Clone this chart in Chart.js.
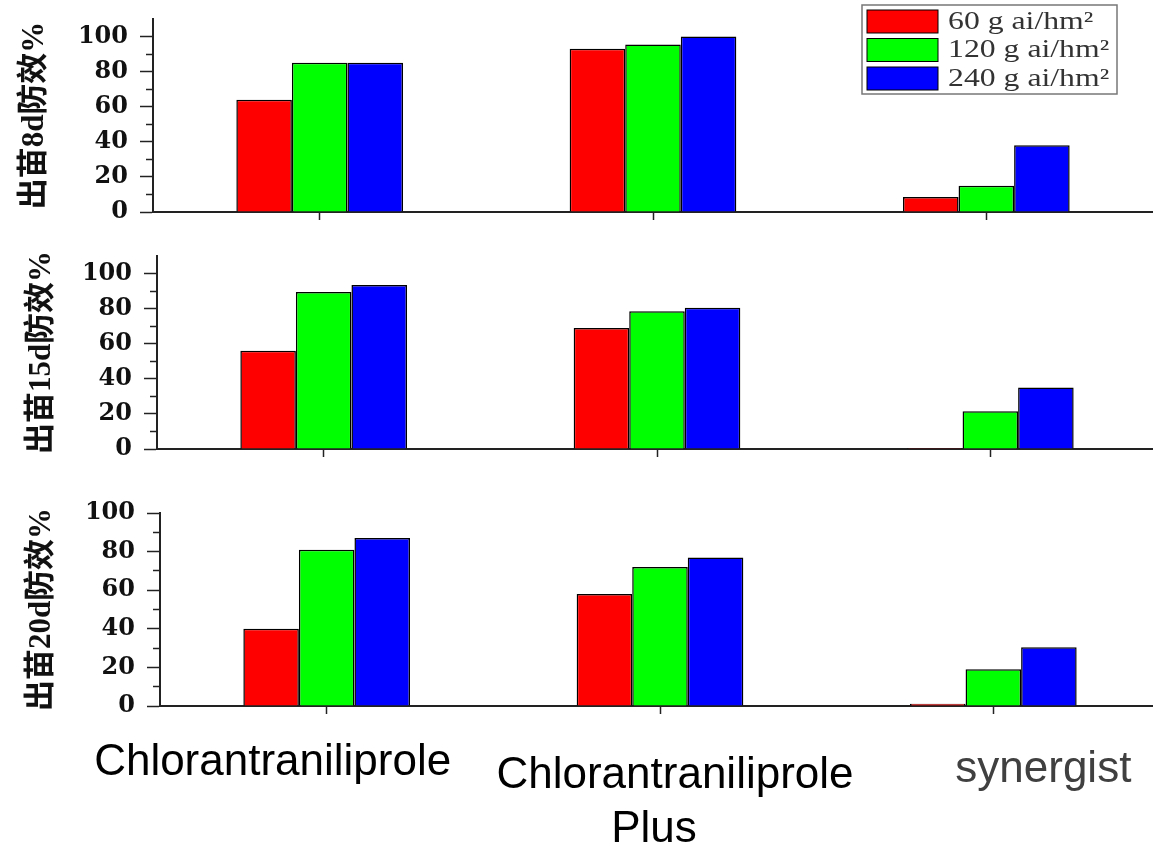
<!DOCTYPE html>
<html>
<head>
<meta charset="utf-8">
<script src="https://cdn.jsdelivr.net/npm/chart.js@4.4.1/dist/chart.umd.min.js"></script>
<style>
  html, body { margin: 0; padding: 0; background: #fff; overflow: hidden; width: 1153px; height: 846px; }
  .panel { position: absolute; left: 0; }
</style>
</head>
<body>
<div class="panel" style="top:0px"><canvas id="c8" width="1170" height="232"></canvas></div>
<div class="panel" style="top:237px"><canvas id="c15" width="1170" height="232"></canvas></div>
<div class="panel" style="top:494px"><canvas id="c20" width="1170" height="352"></canvas></div>
<script>
// categories and dose groups
const categories = ['Chlorantraniliprole', 'Chlorantraniliprole Plus', 'synergist'];
const categoryLines = [['Chlorantraniliprole'], ['Chlorantraniliprole', 'Plus'], ['synergist']];
const doseLabels = ['60 g ai/hm²', '120 g ai/hm²', '240 g ai/hm²'];
const doseColors = ['#ff0000', '#00ff00', '#0000ff'];

// 出苗8d防效%
const day8_60 = [64, 93, 8.5];
const day8_120 = [85, 95.5, 15];
const day8_240 = [85, 100, 38];
// 出苗15d防效%
const day15_60 = [56, 69, 0.6];
const day15_120 = [89.5, 78.5, 21.5];
const day15_240 = [93.5, 80.5, 35];
// 出苗20d防效%
const day20_60 = [40, 58, 1.2];
const day20_120 = [81, 72, 19];
const day20_240 = [87, 77, 30.5];

const yStep = 10;
const yLabelStep = 20;

const axisColor = '#222';

// legend box drawn in the top-right corner of the first panel
const boxLegend = {
  id: 'boxLegend',
  afterDraw(chart) {
    const ctx = chart.ctx;
    const area = chart.chartArea;
    const w = 255, h = 89;
    const left = area.right - 36 - w;
    const top = area.top - 14;
    ctx.save();
    ctx.strokeStyle = '#777';
    ctx.lineWidth = 1.5;
    ctx.strokeRect(left, top, w, h);
    chart.data.datasets.forEach((ds, i) => {
      const y = top + 5 + i * 28.5;
      ctx.fillStyle = ds.backgroundColor;
      ctx.fillRect(left + 5, y, 71, 23);
      ctx.strokeStyle = '#000';
      ctx.lineWidth = 1;
      ctx.strokeRect(left + 5, y, 71, 23);
      ctx.fillStyle = '#333';
      ctx.font = '25px "Liberation Serif"';
      ctx.textBaseline = 'middle';
      ctx.textAlign = 'left';
      ctx.save();
      ctx.translate(left + 86, y + 12);
      ctx.scale(1.27, 1);
      ctx.fillText(ds.label, 0, 0);
      ctx.restore();
    });
    ctx.restore();
  }
};

// category names under the last panel
const labelColors = ['#000', '#000', '#404040'];
const labelNudge = [
  { dx: [-54], dy: [69] },
  { dx: [15, -6], dy: [82, 136] },
  { dx: [50], dy: [76] }
];
const bottomLabels = {
  id: 'bottomLabels',
  afterDraw(chart) {
    const ctx = chart.ctx;
    const xs = chart.scales.x;
    const bottom = chart.chartArea.bottom;
    ctx.save();
    ctx.font = '44px "Liberation Sans", Arial, sans-serif';
    ctx.textAlign = 'center';
    ctx.textBaseline = 'alphabetic';
    chart.data.labels.forEach((lines, i) => {
      ctx.fillStyle = labelColors[i];
      const cx = xs.getPixelForValue(i);
      lines.forEach((line, j) => {
        ctx.fillText(line, cx + labelNudge[i].dx[j], bottom + labelNudge[i].dy[j]);
      });
    });
    ctx.restore();
  }
};

function makePanel(id, title, s60, s120, s240, yMax, axisLeft, rightPad, xHeight, titlePad, plugins) {
  const values = [s60, s120, s240];
  return new Chart(document.getElementById(id), {
    type: 'bar',
    data: {
      labels: categoryLines,
      datasets: values.map((v, i) => ({
        label: doseLabels[i],
        data: v,
        backgroundColor: doseColors[i],
        borderColor: '#000',
        borderWidth: 1.5,
        categoryPercentage: 0.5,
        barPercentage: 1.0
      }))
    },
    options: {
      responsive: false,
      animation: false,
      layout: { padding: { top: 19, right: rightPad, left: 0, bottom: 0 } },
      plugins: {
        legend: { display: false },
        tooltip: { enabled: false }
      },
      scales: {
        x: {
          offset: true,
          grid: {
            drawOnChartArea: false,
            offset: false,
            tickLength: 8,
            tickWidth: 1.5,
            tickColor: axisColor
          },
          border: { display: true, color: axisColor, width: 2 },
          ticks: { display: false },
          afterFit: (s) => { s.height = xHeight; s.paddingLeft = 0; s.paddingRight = 0; }
        },
        y: {
          min: 0,
          max: yMax,
          ticks: {
            stepSize: yStep,
            autoSkip: false,
            padding: 12,
            color: '#111',
            font: { family: '"DejaVu Serif", "Liberation Serif", serif', weight: 'bold', size: 24 },
            callback: (v) => (v % yLabelStep === 0 && v <= 100) ? v : ''
          },
          grid: {
            drawOnChartArea: false,
            tickLength: 13,
            tickWidth: 1.5,
            tickColor: (c) => (c.tick && c.tick.value > 100) ? 'rgba(0,0,0,0)' : axisColor,
            tickBorderDash: (c) => (c.tick && c.tick.value % yLabelStep) ? [7, 6] : [],
            tickBorderDashOffset: (c) => (c.tick && c.tick.value % yLabelStep) ? 7 : 0
          },
          border: { display: true, color: axisColor, width: 2 },
          title: {
            display: true,
            text: title,
            color: '#111',
            font: { family: '"Liberation Serif", "Noto Sans CJK SC", serif', weight: '600', size: 31 },
            padding: { top: titlePad, bottom: 0 }
          },
          afterFit: (s) => { s.width = axisLeft; s.paddingTop = 0; s.paddingBottom = 0; }
        }
      }
    },
    plugins: plugins
  });
}

makePanel('c8', '出苗8d防效%', day8_60, day8_120, day8_240, 110, 153, 17, 20, 16, [boxLegend]);
makePanel('c15', '出苗15d防效%', day15_60, day15_120, day15_240, 110, 157, 13, 20, 23, []);
makePanel('c20', '出苗20d防效%', day20_60, day20_120, day20_240, 100, 160, 10, 140, 23, [bottomLabels]);
</script>
</body>
</html>
